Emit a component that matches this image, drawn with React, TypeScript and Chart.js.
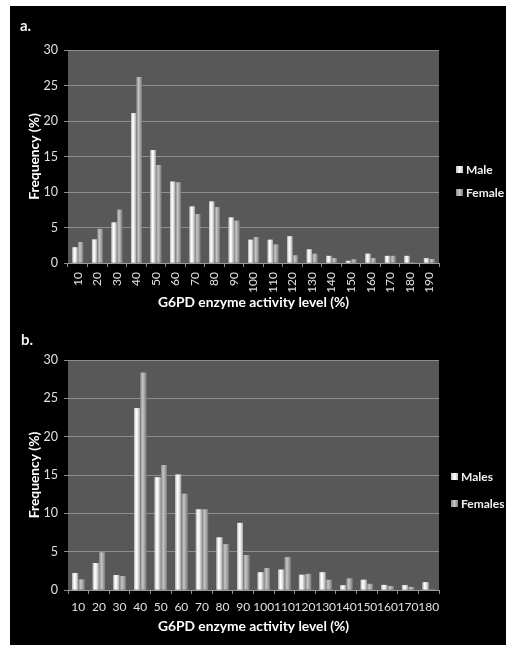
import React, { useEffect, useRef } from "react";
import { Chart, registerables } from "chart.js";

Chart.register(...registerables);

const categoriesA = ["10", "20", "30", "40", "50", "60", "70", "80", "90", "100", "110", "120", "130", "140", "150", "160", "170", "180", "190"];
const maleA = [2.2, 3.3, 5.7, 21.1, 15.9, 11.45, 7.95, 8.65, 6.4, 3.27, 3.27, 3.75, 1.9, 1.0, 0.3, 1.3, 1.0, 1.0, 0.65];
const femaleA = [2.95, 4.8, 7.5, 26.2, 13.8, 11.35, 6.9, 7.85, 5.95, 3.65, 2.6, 1.07, 1.3, 0.7, 0.5, 0.7, 1.0, 0.1, 0.55];

const categoriesB = ["10", "20", "30", "40", "50", "60", "70", "80", "90", "100", "110", "120", "130", "140", "150", "160", "170", "180"];
const malesB = [2.2, 3.5, 1.95, 23.7, 14.7, 15.05, 10.5, 6.85, 8.75, 2.3, 2.65, 1.98, 2.3, 0.6, 1.33, 0.66, 0.62, 1.0];
const femalesB = [1.37, 4.9, 1.8, 28.35, 16.3, 12.55, 10.5, 5.97, 4.56, 2.87, 4.3, 2.1, 1.33, 1.5, 0.8, 0.5, 0.4, 0.1];

const yMin = 0;
const yMax = 30;
const yStep = 5;

const xTitle = "G6PD enzyme activity level (%)";
const yTitle = "Frequency (%)";

const FONT = "Lato, 'Open Sans', sans-serif";

const plotBg = {
  id: "plotBg",
  beforeDraw(chart: any) {
    const { ctx, chartArea } = chart;
    if (!chartArea) return;
    ctx.save();
    ctx.fillStyle = "#585858";
    ctx.fillRect(chartArea.left, chartArea.top, chartArea.right - chartArea.left, chartArea.bottom - chartArea.top);
    ctx.restore();
  },
};

const barShade = {
  id: "barShade",
  afterDatasetsDraw(chart: any) {
    const { ctx } = chart;
    chart.data.datasets.forEach((ds: any, di: number) => {
      const meta = chart.getDatasetMeta(di);
      const light = di === 0;
      meta.data.forEach((el: any) => {
        const { x, y, base, width } = el.getProps(["x", "y", "base", "width"], true);
        const left = x - width / 2;
        const g = ctx.createLinearGradient(left, 0, left + width, 0);
        if (light) {
          g.addColorStop(0, "#b4b4b4");
          g.addColorStop(0.35, "#ffffff");
          g.addColorStop(0.6, "#efefef");
          g.addColorStop(1, "#a4a4a4");
        } else {
          g.addColorStop(0, "#858585");
          g.addColorStop(0.35, "#c4c4c4");
          g.addColorStop(0.6, "#b0b0b0");
          g.addColorStop(1, "#7a7a7a");
        }
        ctx.save();
        ctx.fillStyle = g;
        ctx.fillRect(left, Math.min(y, base), width, Math.abs(base - y));
        ctx.restore();
      });
    });
  },
};

function makeConfig(
  labels: string[],
  s1: number[],
  s2: number[],
  n1: string,
  n2: string,
  rotated: boolean,
  pad: { left: number; right: number; top: number; bottom: number },
  xHeight: number,
  catPct: number
): any {
  return {
    type: "bar",
    data: {
      labels,
      datasets: [
        { label: n1, data: s1, backgroundColor: "#e6e6e6", categoryPercentage: catPct, barPercentage: 0.92 },
        { label: n2, data: s2, backgroundColor: "#a0a0a0", categoryPercentage: catPct, barPercentage: 0.92 },
      ],
    },
    options: {
      responsive: false,
      animation: false,
      layout: { padding: pad },
      plugins: { legend: { display: false }, tooltip: { enabled: false } },
      scales: {
        x: {
          grid: { display: true, drawOnChartArea: false, tickLength: 4, color: "#8e8e8e", offset: true },
          border: { display: true, color: "#9a9a9a" },
          ticks: {
            color: "#e0e0e0",
            font: { family: FONT, size: 12 },
            autoSkip: false,
            minRotation: rotated ? 90 : 0,
            maxRotation: rotated ? 90 : 0,
            padding: rotated ? 5 : 6,
          },
          title: { display: true, text: xTitle, color: "#ffffff", font: { family: FONT, size: 13.8, weight: "bold" } },
          afterFit: (s: any) => { s.height = xHeight; },
        },
        y: {
          min: yMin,
          max: yMax,
          grid: { color: "#8e8e8e", tickLength: 4 },
          border: { display: false },
          ticks: { stepSize: yStep, color: "#e0e0e0", font: { family: FONT, size: 12.5 }, padding: 6 },
          title: { display: true, text: yTitle, color: "#ffffff", font: { family: FONT, size: 13.8, weight: "bold" } },
          afterFit: (s: any) => { s.width = 45.4; },
        },
      },
    },
    plugins: [plotBg, barShade],
  };
}

const legendText: React.CSSProperties = {
  position: "absolute",
  color: "#f0f0f0",
  fontFamily: FONT,
  fontWeight: "bold",
  fontSize: 12,
  lineHeight: "14px",
  whiteSpace: "nowrap",
};

function Marker({ light }: { light: boolean }) {
  return (
    <span
      style={{
        display: "inline-block",
        width: 7,
        height: 7,
        marginRight: 3,
        verticalAlign: "middle",
        marginTop: -2,
        background: light
          ? "linear-gradient(90deg,#c0c0c0,#ffffff,#bdbdbd)"
          : "linear-gradient(90deg,#8a8a8a,#c4c4c4,#7e7e7e)",
      }}
    />
  );
}

export default function App() {
  const refA = useRef<HTMLCanvasElement>(null);
  const refB = useRef<HTMLCanvasElement>(null);

  useEffect(() => {
    const cA = new Chart(
      refA.current!,
      makeConfig(categoriesA, maleA, femaleA, "Male", "Female", true, { left: 12.6, right: 67, top: 44, bottom: 5 }, 52, 0.57)
    );
    const cB = new Chart(
      refB.current!,
      makeConfig(categoriesB, malesB, femalesB, "Males", "Females", false, { left: 12.6, right: 67, top: 40, bottom: 6 }, 49, 0.62)
    );
    return () => {
      cA.destroy();
      cB.destroy();
    };
  }, []);

  return (
    <div style={{ position: "absolute", left: 0, top: 0, width: 506, height: 645, background: "#ffffff", overflow: "hidden" }}>
      <div style={{ position: "absolute", left: 10, top: 6, width: 496, height: 639, background: "#000000" }}>
        <canvas ref={refA} width={496} height={314} style={{ position: "absolute", left: 0, top: 0, width: 496, height: 314 }} />
        <canvas ref={refB} width={496} height={325} style={{ position: "absolute", left: 0, top: 314, width: 496, height: 325 }} />
        <div style={{ ...legendText, fontSize: 15, left: 10, top: 12 }}>a.</div>
        <div style={{ ...legendText, fontSize: 15, left: 11, top: 326 }}>b.</div>
        <div style={{ ...legendText, left: 446, top: 157 }}><Marker light={true} />Male</div>
        <div style={{ ...legendText, left: 446, top: 180 }}><Marker light={false} />Female</div>
        <div style={{ ...legendText, left: 441, top: 464 }}><Marker light={true} />Males</div>
        <div style={{ ...legendText, left: 441, top: 491 }}><Marker light={false} />Females</div>
      </div>
    </div>
  );
}
